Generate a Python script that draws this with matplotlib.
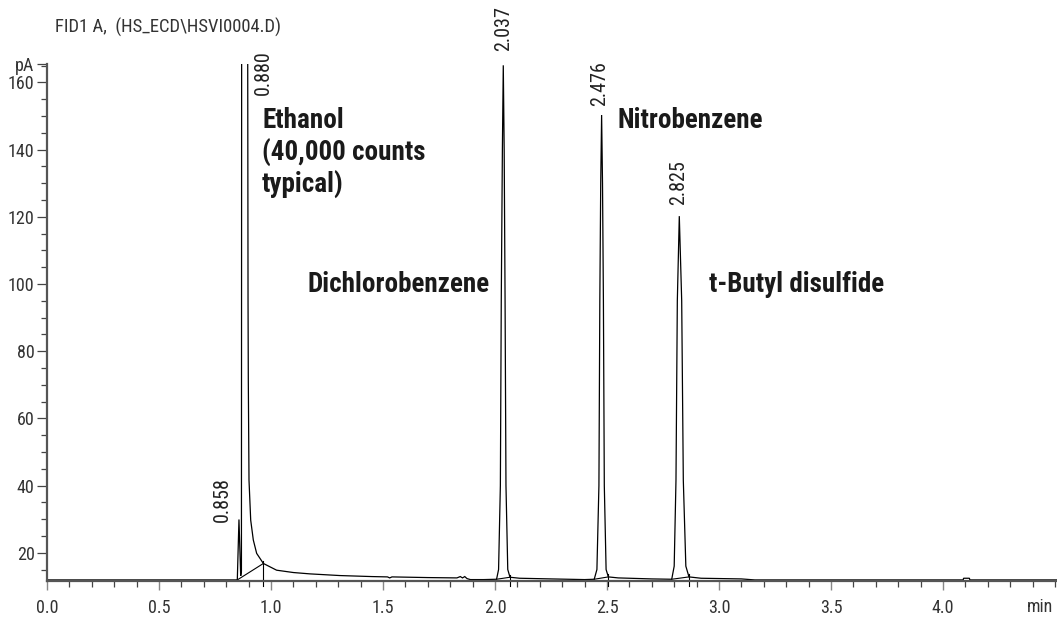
import matplotlib
matplotlib.use('Agg')
import matplotlib.pyplot as plt
from matplotlib import font_manager as fm
from matplotlib.ticker import MultipleLocator, FixedLocator
import matplotlib.transforms as mtrans

# ---------------- data ----------------
time_min = [0.000, 0.500, 0.8496, 0.857, 0.8647, 0.868, 0.869, 0.880, 0.896, 0.8975,
            0.8987, 0.9018, 0.9094, 0.921, 0.936, 0.966, 1.025, 1.100, 1.174, 1.308,
            1.450, 1.520, 1.530, 1.540, 1.700, 1.830, 1.845, 1.855, 1.865, 1.875,
            1.890, 1.950, 2.007, 2.016, 2.024, 2.028, 2.033, 2.037, 2.041, 2.045,
            2.049, 2.057, 2.067, 2.110, 2.250, 2.400, 2.443, 2.455, 2.464, 2.468,
            2.472, 2.476, 2.480, 2.484, 2.488, 2.496, 2.506, 2.550, 2.700, 2.789,
            2.800, 2.808, 2.814, 2.8228, 2.8335, 2.8407, 2.852, 2.866, 2.920, 3.100,
            3.160, 4.090, 4.092, 4.118, 4.120, 4.509]
signal_pA = [11.9, 11.9, 11.9, 29.9, 13.1, 14.5, 170.0, 400.0, 170.0, 95.0,
             71.4, 41.6, 29.7, 23.8, 19.8, 16.8, 14.8, 14.1, 13.7, 13.2,
             12.9, 12.8, 12.5, 12.8, 12.6, 12.5, 12.9, 12.5, 12.9, 12.3,
             12.0, 12.0, 12.1, 15.0, 40.0, 95.0, 140.0, 165.1, 140.0, 95.0,
             40.0, 15.0, 12.7, 12.4, 12.2, 12.0, 12.1, 15.0, 40.0, 95.0,
             130.0, 150.3, 130.0, 95.0, 40.0, 15.0, 12.8, 12.5, 12.2, 12.1,
             16.0, 41.6, 95.0, 120.2, 95.0, 41.6, 16.0, 12.8, 12.4, 12.2,
             11.9, 11.9, 12.4, 12.4, 11.9, 11.9]

# integration baselines (start t, start pA, end t, end pA)
base_t0 = [0.8496, 2.007, 2.443, 2.789]
base_y0 = [11.9, 12.1, 12.1, 12.1]
base_t1 = [0.966, 2.067, 2.506, 2.866]
base_y1 = [16.8, 12.7, 12.8, 12.8]

peak_rt_labels = ['0.858', '0.880', '2.037', '2.476', '2.825']
peak_label_t = [0.781, 0.964, 2.037, 2.469, 2.822]
peak_label_pA = [29.2, 156.2, 169.4, 152.9, 123.5]

compound_names = ['Ethanol', '(40,000 counts', 'typical)', 'Dichlorobenzene',
                  'Nitrobenzene', 't-Butyl disulfide']
compound_t = [0.960, 0.960, 0.960, 1.161, 2.545, 2.955]
compound_pA = [148.8, 139.0, 129.4, 99.7, 148.8, 99.7]

x_major_ticks = [0.0, 0.5, 1.0, 1.5, 2.0, 2.5, 3.0, 3.5, 4.0]
x_tick_labels = ['0.0', '0.5', '1.0', '1.5', '2.0', '2.5', '3.0', '3.5', '4.0']
y_major_ticks = [20, 40, 60, 80, 100, 120, 140, 160]
y_tick_labels = ['20', '40', '60', '80', '100', '120', '140', '160']

title_text = 'FID1 A,  (HS_ECD\\HSVI0004.D)'
x_unit = 'min'
y_unit = 'pA'

# ---------------- fonts ----------------
names = {f.name for f in fm.fontManager.ttflist}
cands = ['Liberation Sans Narrow', 'Roboto Condensed', 'Open Sans Condensed']
FONT = next((c for c in cands if c in names), None)
stretch = 'normal'
if FONT is None:
    FONT = 'DejaVu Sans'
    stretch = 'condensed'
plt.rcParams['font.family'] = [FONT, 'DejaVu Sans']
plt.rcParams['font.stretch'] = stretch

W, H = 1057, 618
fig = plt.figure(figsize=(W / 100, H / 100), dpi=100)
left_px, right_px, bottom_px, top_px = 47, 1057, 580.7, 64.3
ax = fig.add_axes([left_px / W, 1 - bottom_px / H, (right_px - left_px) / W,
                   (bottom_px - top_px) / H])

YMIN, YMAX = 11.67, 165.4
XMIN, XMAX = 0.0, 4.509
ax.set_xlim(XMIN, XMAX)
ax.set_ylim(YMIN, YMAX)

ax.plot(time_min, signal_pA, color='black', lw=0.9, solid_joinstyle='miter')
for t0, y0, t1, y1 in zip(base_t0, base_y0, base_t1, base_y1):
    ax.plot([t0, t1], [y0, y1], color='black', lw=0.8)
    ax.plot([t1, t1], [y1 + 0.8, YMIN - 1.6], color='black', lw=0.8, clip_on=False)

for s in ['top', 'right']:
    ax.spines[s].set_visible(False)
for s in ['left', 'bottom']:
    ax.spines[s].set_color('#555555')
    ax.spines[s].set_linewidth(1.6)

ax.xaxis.set_major_locator(FixedLocator(x_major_ticks))
ax.set_xticklabels(x_tick_labels)
ax.xaxis.set_minor_locator(MultipleLocator(0.1))
ax.tick_params(axis='x', which='major', length=6.5, width=1.0, color='#888888',
               pad=7, labelsize=13, labelcolor='#333333')
ax.tick_params(axis='x', which='minor', length=4.5, width=0.9, color='#444444')

ax.yaxis.set_major_locator(FixedLocator(y_major_ticks + [YMAX]))
ax.set_yticklabels(y_tick_labels + [y_unit])
ax.yaxis.set_minor_locator(MultipleLocator(5))
ax.tick_params(axis='y', which='major', length=7, width=0.9, color='#444444',
               pad=2, labelsize=13, labelcolor='#333333')
ax.tick_params(axis='y', which='minor', length=4, width=0.9, color='#444444')

trans = mtrans.blended_transform_factory(ax.transData, fig.transFigure)
ax.text(4.433, 1 - 607 / H, x_unit, transform=trans, ha='center', va='center',
        fontsize=13, color='#333333')

fig.text(55 / W, 1 - 27 / H, title_text, ha='left', va='center', fontsize=13.4,
         color='#333333')

for lab, t, y in zip(peak_rt_labels, peak_label_t, peak_label_pA):
    ax.text(t, y, lab, rotation=90, ha='center', va='bottom', fontsize=14.5,
            color='#222222', clip_on=False)

for name, t, y in zip(compound_names, compound_t, compound_pA):
    ax.text(t, y, name, ha='left', va='center', fontsize=19.5, fontweight='bold',
            color='#1a1a1a')

fig.savefig('out.png', dpi=100)
